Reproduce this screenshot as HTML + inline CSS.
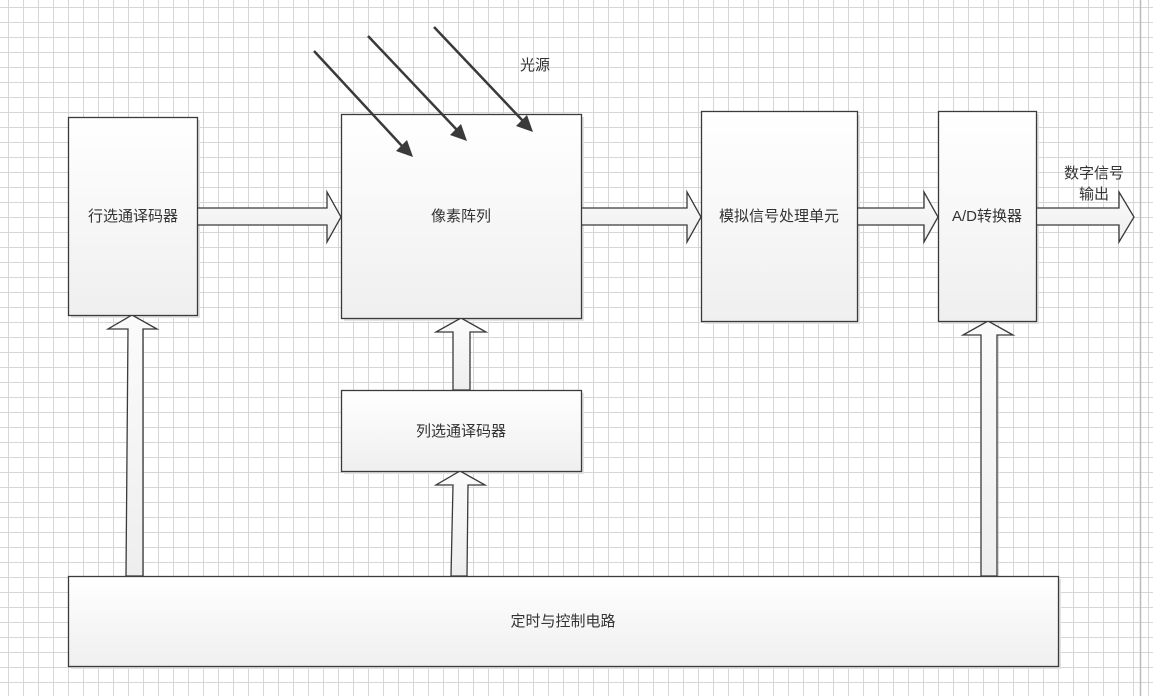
<!DOCTYPE html>
<html><head><meta charset="utf-8"><style>
html,body{margin:0;padding:0;background:#fff;}
svg{display:block;}
text{font-family:"Liberation Sans","Noto Sans CJK SC",sans-serif;font-size:15px;fill:#333;}
</style></head><body>
<svg width="1153" height="696" viewBox="0 0 1153 696" xmlns="http://www.w3.org/2000/svg">
<defs>
<pattern id="g" x="8" y="7" width="15" height="15" patternUnits="userSpaceOnUse">
<path d="M0.5 0V15M0 0.5H15" stroke="#d6d6d6" stroke-width="1" fill="none"/>
</pattern>
<linearGradient id="f" x1="0" y1="0" x2="0" y2="1">
<stop offset="0" stop-color="#ffffff"/><stop offset="1" stop-color="#efefef"/>
</linearGradient>
<linearGradient id="fh" x1="0" y1="0" x2="0" y2="1">
<stop offset="0" stop-color="#fbfbfb"/><stop offset="1" stop-color="#eeeeee"/>
</linearGradient>
</defs>
<rect width="1153" height="696" fill="url(#g)"/>
<line x1="1140.5" y1="0" x2="1140.5" y2="696" stroke="#bbb" stroke-width="1.5"/>

<g fill="#e2e2e2">
<rect x="71" y="120" width="129" height="198"/>
<rect x="344" y="117" width="240" height="204"/>
<rect x="705" y="115" width="155" height="209"/>
<rect x="941" y="114" width="98" height="210"/>
<rect x="344" y="393" width="240" height="81"/>
<rect x="71" y="579" width="990" height="90"/>
</g>

<g stroke="#3a3a3a" stroke-width="1.3" fill="url(#fh)">
<!-- horizontal arrows -->
<polygon points="197,208 327,208 327,192 341,217 327,242 327,225 197,225"/>
<polygon points="581,208 687,208 687,192 701,217 687,242 687,225 581,225"/>
<polygon points="857,208 924,208 924,192 938,217 924,242 924,225 857,225"/>
<polygon points="1036,208 1119,208 1119,192 1134,217 1119,242 1119,225 1036,225"/>
<!-- vertical arrows -->
<polygon points="126,576 128,329 108,329 132,315 157,329 143,329 143,576"/>
<polygon points="453,390 453,332 436,332 461,318 486,332 470,332 470,390"/>
<polygon points="451,576 453,485 436,485 460,471 485,485 468,485 467,576"/>
<polygon points="981,576 981,335 963,335 988,321 1013,335 997,335 997,576"/>
</g>

<g stroke="#3a3a3a" stroke-width="1.3" fill="url(#f)">
<rect x="68.5" y="117.5" width="129" height="198"/>
<rect x="341.5" y="114.5" width="240" height="204"/>
<rect x="701.5" y="111.5" width="156" height="210"/>
<rect x="938.5" y="111.5" width="98" height="210"/>
<rect x="341.5" y="390.5" width="240" height="81"/>
<rect x="68.5" y="576.5" width="990" height="90"/>
</g>

<!-- light arrows -->
<g stroke="#3a3a3a" stroke-width="2.5">
<line x1="314" y1="51" x2="402" y2="146"/>
<line x1="368" y1="36" x2="457" y2="130"/>
<line x1="434" y1="27" x2="523" y2="121"/>
</g>
<g fill="#3a3a3a">
<polygon points="413,157 396,151 407,140"/>
<polygon points="467,141 450,135 461,124"/>
<polygon points="533,132 516,126 527,115"/>
</g>

<text x="133" y="221" text-anchor="middle">行选通译码器</text>
<text x="461" y="221" text-anchor="middle">像素阵列</text>
<text x="779" y="221" text-anchor="middle">模拟信号处理单元</text>
<text x="987" y="221" text-anchor="middle">A/D转换器</text>
<text x="461" y="436" text-anchor="middle">列选通译码器</text>
<text x="563" y="626" text-anchor="middle">定时与控制电路</text>
<text x="535" y="70" text-anchor="middle">光源</text>
<text x="1094" y="178" text-anchor="middle">数字信号</text>
<text x="1094" y="199" text-anchor="middle">输出</text>
</svg>
</body></html>
